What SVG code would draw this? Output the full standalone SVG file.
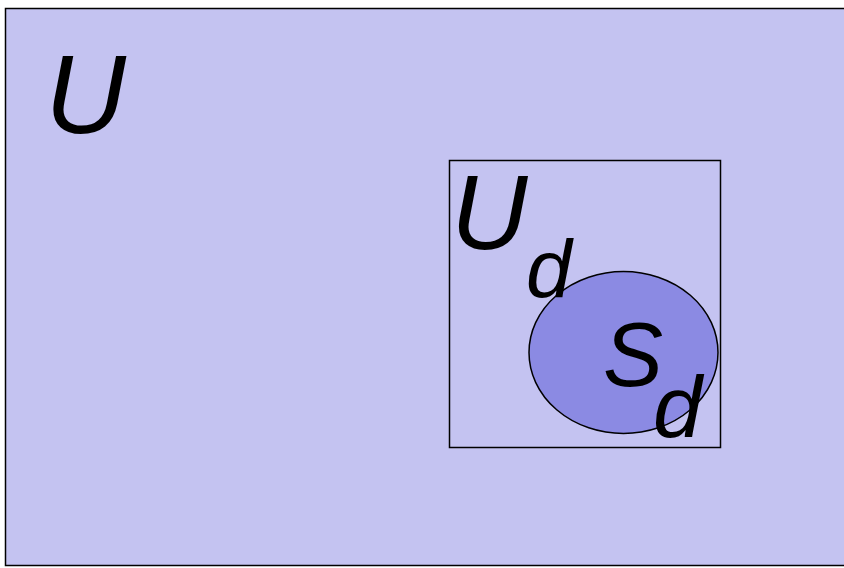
<svg xmlns="http://www.w3.org/2000/svg" width="844" height="568" viewBox="0 0 844 568">
<style>
.lbl{font-family:"Liberation Sans",Arial,sans-serif;font-style:italic;fill:#000}
</style>
<rect width="844" height="568" fill="#fff"/>
<g id="universe">
<rect x="5.5" y="8.5" width="850" height="557" fill="#c4c3f1" stroke="#000" stroke-width="1.5"/>
<text class="lbl" x="45" y="133" font-size="112">U</text>
</g>
<g id="Ud">
<rect x="449.5" y="160.5" width="271" height="287" fill="none" stroke="#000" stroke-width="1.5"/>
<text class="lbl" x="451" y="249" font-size="106">U</text>
</g>
<g id="Sd">
<ellipse cx="623.5" cy="352.5" rx="94.5" ry="81" fill="#8b8ae3" stroke="#000" stroke-width="1.5"/>
<text class="lbl" x="603" y="386" font-size="90">S</text>
<text class="lbl" x="653" y="437" font-size="88">d</text>
</g>
<g id="Ud-sub">
<text class="lbl" x="526" y="297" font-size="82">d</text>
</g>
<g id="connectors"/>
</svg>
